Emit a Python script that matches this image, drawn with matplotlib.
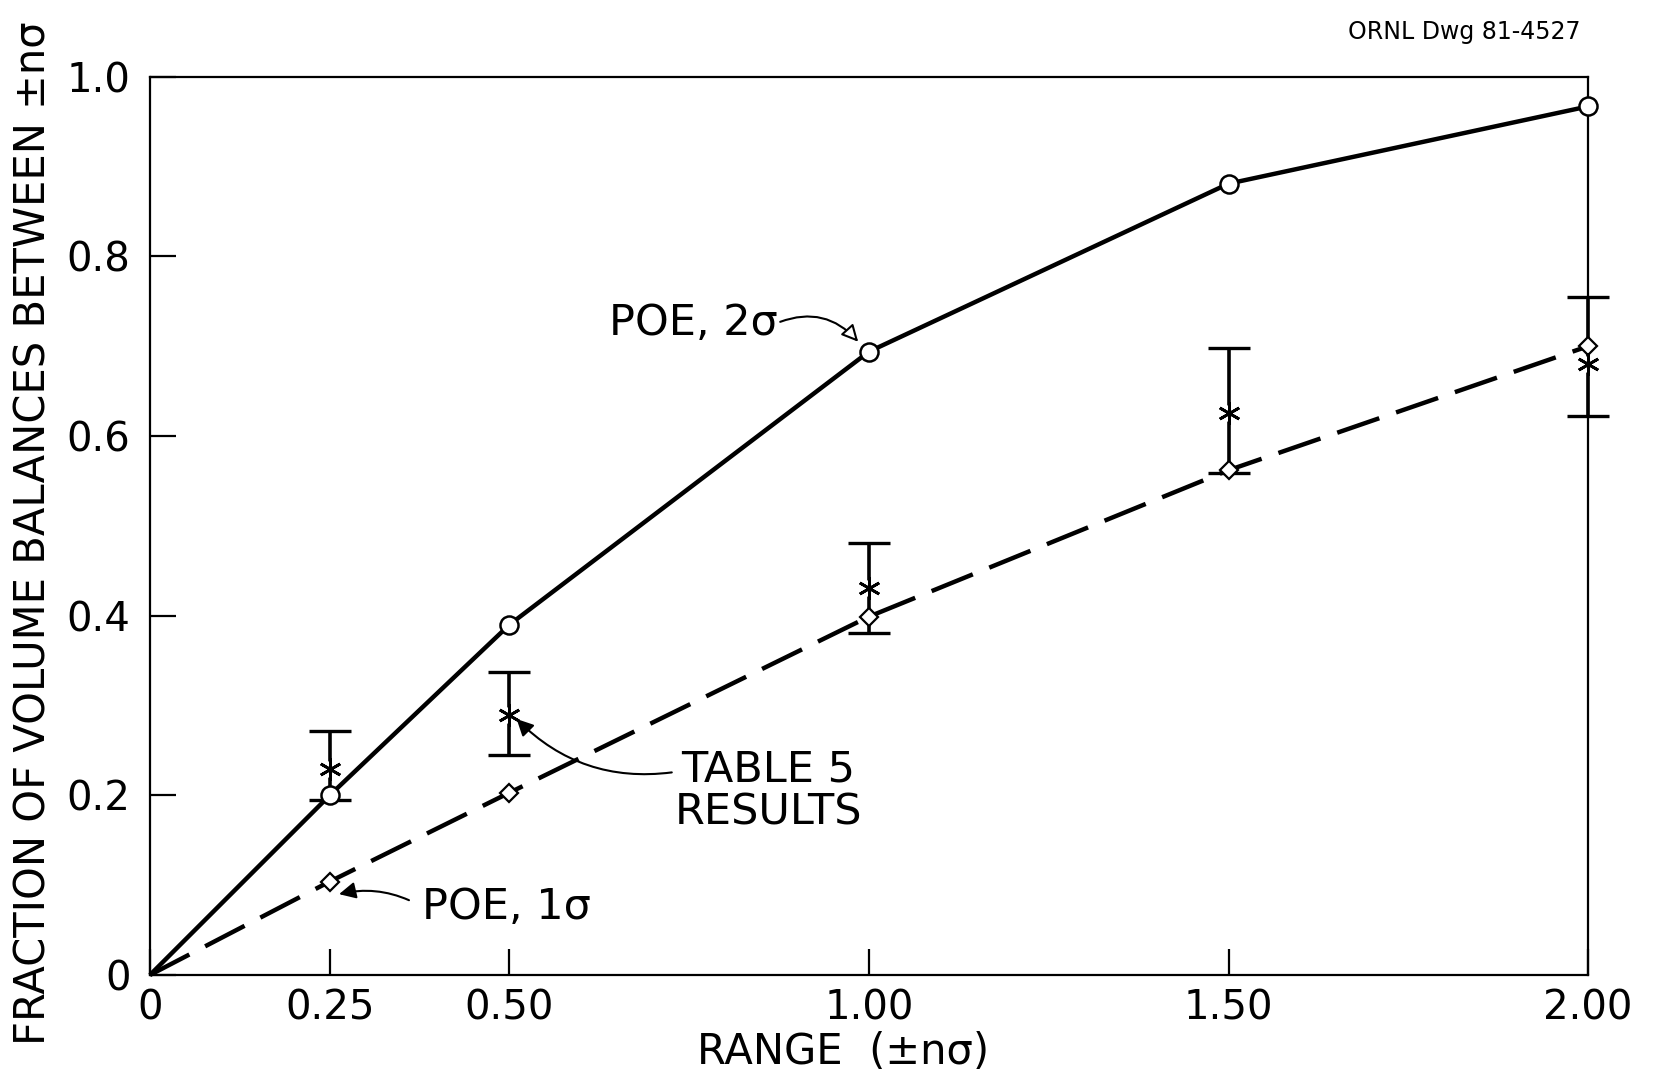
import matplotlib
matplotlib.use("Agg")
import matplotlib.pyplot as plt
import numpy as np

# ---- data ----
x_vals = [0.0, 0.25, 0.50, 1.00, 1.50, 2.00]
poe_2sigma = [0.0, 0.20, 0.39, 0.694, 0.881, 0.967]
poe_1sigma = [0.0, 0.104, 0.203, 0.399, 0.562, 0.70]

t5_x = [0.25, 0.50, 1.00, 1.50, 2.00]
t5_val = [0.229, 0.290, 0.431, 0.626, 0.680]
t5_hi = [0.272, 0.337, 0.481, 0.698, 0.755]
t5_lo = [0.195, 0.245, 0.381, 0.559, 0.622]

xtick_vals = [0, 0.25, 0.50, 1.00, 1.50, 2.00]
xtick_labels = ["0", "0.25", "0.50", "1.00", "1.50", "2.00"]
ytick_vals = [0, 0.2, 0.4, 0.6, 0.8, 1.0]
ytick_labels = ["0", "0.2", "0.4", "0.6", "0.8", "1.0"]

plt.rcParams['font.family'] = ['DejaVu Sans']

fig = plt.figure(figsize=(16.53, 10.77), dpi=100)
ax = fig.add_axes([0.0907, 0.0947, 0.870, 0.834])
ax.set_xlim(0, 2.0)
ax.set_ylim(0, 1.0)

for s in ax.spines.values():
    s.set_linewidth(1.6)

# curves
ax.plot(x_vals, poe_2sigma, color='black', lw=3.2, solid_capstyle='butt',
        zorder=2, clip_on=False)
ax.plot(x_vals, poe_1sigma, color='black', lw=3.2, linestyle=(0, (10, 4)),
        dash_capstyle='butt', zorder=2, clip_on=False)
ax.plot(x_vals[1:], poe_2sigma[1:], linestyle='none', marker='o', ms=13,
        mfc='white', mec='black', mew=1.8, zorder=4, clip_on=False)
ax.plot(x_vals[1:], poe_1sigma[1:], linestyle='none', marker='D', ms=9,
        mfc='white', mec='black', mew=1.6, zorder=4, clip_on=False)

# table 5 results with error bars
t5_val_a = np.array(t5_val)
yerr = [t5_val_a - np.array(t5_lo), np.array(t5_hi) - t5_val_a]
ax.errorbar(t5_x, t5_val, yerr=yerr, fmt='none', ecolor='black',
            elinewidth=2.6, capsize=15, capthick=2.4, zorder=3, clip_on=False)
ax.plot(t5_x, t5_val, linestyle='none', marker='o', ms=12,
        mfc='white', mec='none', zorder=4.5, clip_on=False)
ax.plot(t5_x, t5_val, linestyle='none', marker=(6, 2, 0), ms=16,
        color='black', mew=2.0, zorder=5, clip_on=False)

# ticks
ax.set_xticks(xtick_vals)
ax.set_xticklabels(xtick_labels)
ax.set_yticks(ytick_vals)
ax.set_yticklabels(ytick_labels)
ax.tick_params(axis='both', direction='in', length=19, width=1.6,
               labelsize=29, pad=10)
ax.tick_params(axis='y', pad=14)

# annotations
ax.annotate("POE, 2σ", xy=(0.985, 0.705), xytext=(0.638, 0.726),
            fontsize=31, va='center', ha='left',
            arrowprops=dict(arrowstyle='-|>', color='black', lw=1.5,
                            mutation_scale=25, fc='white',
                            shrinkA=0, shrinkB=0,
                            connectionstyle='arc3,rad=-0.35',
                            relpos=(1.0, 0.5)))
ax.annotate("TABLE 5\nRESULTS", xy=(0.51, 0.285), xytext=(0.86, 0.205),
            fontsize=31, va='center', ha='center', linespacing=1.05,
            arrowprops=dict(arrowstyle='-|>', color='black', lw=1.5,
                            mutation_scale=25, shrinkA=0, shrinkB=0,
                            connectionstyle='arc3,rad=-0.25',
                            relpos=(0.0, 0.72)))
ax.annotate("POE, 1σ", xy=(0.263, 0.090), xytext=(0.378, 0.076),
            fontsize=31, va='center', ha='left',
            arrowprops=dict(arrowstyle='-|>', color='black', lw=1.5,
                            mutation_scale=25, shrinkA=8, shrinkB=0,
                            connectionstyle='arc3,rad=0.2',
                            relpos=(0.0, 0.5)))

# axis labels
fig.text(34 / 1653, 0.505, "FRACTION OF VOLUME BALANCES BETWEEN ±nσ",
         rotation=90, fontsize=30, ha='center', va='center')
fig.text(843 / 1653, 1 - 1052 / 1077, "RANGE  (±nσ)", fontsize=30,
         ha='center', va='center')
fig.text(1581 / 1653, 1 - 32 / 1077, "ORNL Dwg 81-4527", fontsize=17,
         ha='right', va='center')

fig.savefig("out.png", dpi=100)
